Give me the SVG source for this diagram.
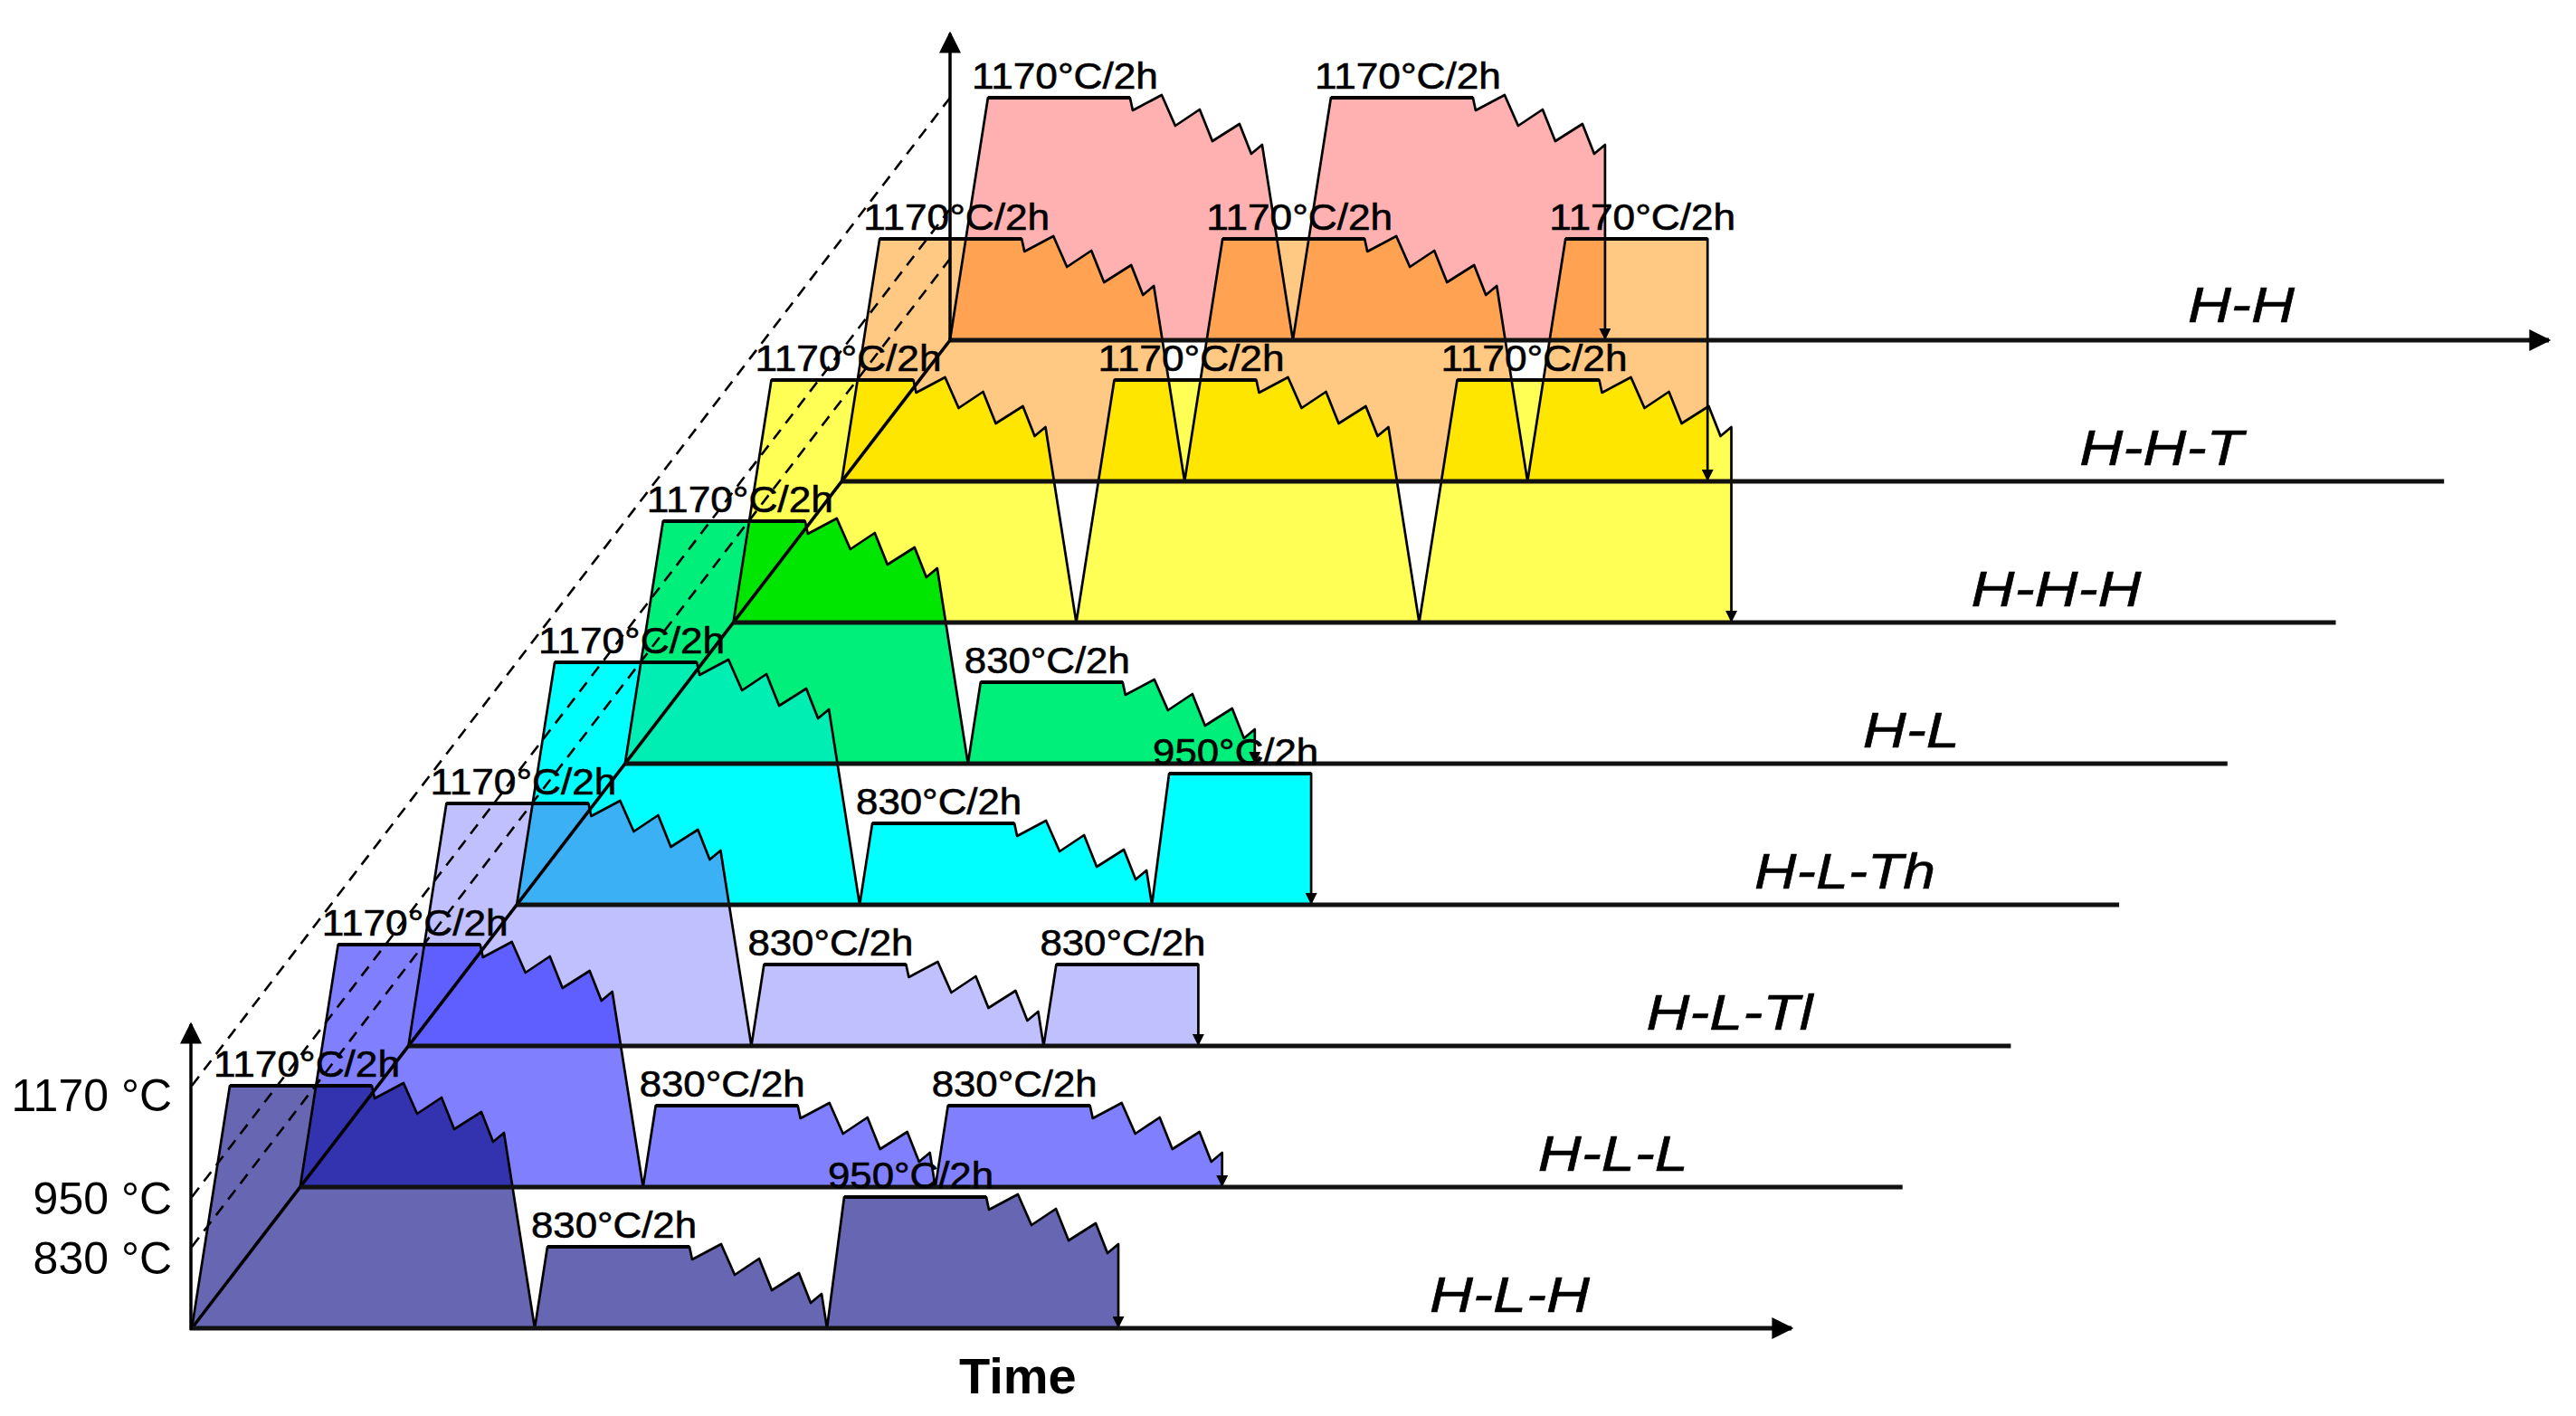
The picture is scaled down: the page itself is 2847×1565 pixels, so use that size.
<svg xmlns="http://www.w3.org/2000/svg" xmlns:xlink="http://www.w3.org/1999/xlink" width="2847" height="1565" viewBox="0 0 2847 1565">
<style>
.ol{fill:none;stroke:#000;stroke-width:2.7;stroke-linejoin:round;marker-end:url(#sa)}
.pl{stroke:#000;stroke-width:4;stroke-linecap:butt}
.bl{stroke:#111;stroke-width:5}
.ax{stroke:#000;stroke-width:3.5}
.dash{stroke:#000;stroke-width:2.6;stroke-dasharray:13 9;fill:none}
.t{font-family:"Liberation Sans",Arial,sans-serif;font-size:40px;fill:#000;stroke:#000;stroke-width:0.6}
.s{font-family:"Liberation Sans",Arial,sans-serif;font-size:56px;font-style:italic;fill:#000;stroke:#000;stroke-width:0.6}
.y{font-family:"Liberation Sans",Arial,sans-serif;font-size:50px;fill:#000;text-anchor:end}
</style>
<defs>
<marker id="sa" viewBox="0 0 10 10" refX="10" refY="5" markerWidth="15" markerHeight="13" markerUnits="userSpaceOnUse" orient="auto"><path d="M0,0 L10,5 L0,10 Z" fill="#000"/></marker>
<marker id="ba" viewBox="0 0 10 10" refX="9" refY="5" markerWidth="26" markerHeight="24" markerUnits="userSpaceOnUse" orient="auto"><path d="M0,0 L10,5 L0,10 Z" fill="#000"/></marker>
<path id="p0" d="M0,0 L42,-268 L199,-268 L202,-254 L234,-271 L249,-237 L276,-255 L290,-220 L320,-239 L333,-206 L345,-216 L379,0 L393,-90 L550,-90 L553,-76 L585,-93 L600,-59 L627,-77 L641,-42 L671,-61 L684,-28 L696,-38 L702,0 L721,-145 L878,-145 L881,-131 L913,-148 L928,-114 L955,-132 L969,-97 L999,-116 L1012,-83 L1024,-93 L1024,0"/>
<path id="p1" d="M0,0 L42,-268 L199,-268 L202,-254 L234,-271 L249,-237 L276,-255 L290,-220 L320,-239 L333,-206 L345,-216 L379,0 L393,-90 L550,-90 L553,-76 L585,-93 L600,-59 L627,-77 L641,-42 L671,-61 L684,-28 L696,-38 L702,0 L716,-90 L873,-90 L876,-76 L908,-93 L923,-59 L950,-77 L964,-42 L994,-61 L1007,-28 L1019,-38 L1019,0"/>
<path id="p2" d="M0,0 L42,-268 L199,-268 L202,-254 L234,-271 L249,-237 L276,-255 L290,-220 L320,-239 L333,-206 L345,-216 L379,0 L393,-90 L550,-90 L553,-76 L585,-93 L600,-59 L627,-77 L641,-42 L671,-61 L684,-28 L696,-38 L702,0 L716,-90 L873,-90 L873,0"/>
<path id="p3" d="M0,0 L42,-268 L199,-268 L202,-254 L234,-271 L249,-237 L276,-255 L290,-220 L320,-239 L333,-206 L345,-216 L379,0 L393,-90 L550,-90 L553,-76 L585,-93 L600,-59 L627,-77 L641,-42 L671,-61 L684,-28 L696,-38 L702,0 L721,-145 L878,-145 L878,0"/>
<path id="p4" d="M0,0 L42,-268 L199,-268 L202,-254 L234,-271 L249,-237 L276,-255 L290,-220 L320,-239 L333,-206 L345,-216 L379,0 L393,-90 L550,-90 L553,-76 L585,-93 L600,-59 L627,-77 L641,-42 L671,-61 L684,-28 L696,-38 L696,0"/>
<path id="p5" d="M0,0 L42,-268 L199,-268 L202,-254 L234,-271 L249,-237 L276,-255 L290,-220 L320,-239 L333,-206 L345,-216 L379,0 L421,-268 L578,-268 L581,-254 L613,-271 L628,-237 L655,-255 L669,-220 L699,-239 L712,-206 L724,-216 L758,0 L800,-268 L957,-268 L960,-254 L992,-271 L1007,-237 L1034,-255 L1048,-220 L1078,-239 L1091,-206 L1103,-216 L1103,0"/>
<path id="p6" d="M0,0 L42,-268 L199,-268 L202,-254 L234,-271 L249,-237 L276,-255 L290,-220 L320,-239 L333,-206 L345,-216 L379,0 L421,-268 L578,-268 L581,-254 L613,-271 L628,-237 L655,-255 L669,-220 L699,-239 L712,-206 L724,-216 L758,0 L800,-268 L957,-268 L957,0"/>
<path id="p7" d="M0,0 L42,-268 L199,-268 L202,-254 L234,-271 L249,-237 L276,-255 L290,-220 L320,-239 L333,-206 L345,-216 L379,0 L421,-268 L578,-268 L581,-254 L613,-271 L628,-237 L655,-255 L669,-220 L699,-239 L712,-206 L724,-216 L724,0"/>
<clipPath id="c1"><use xlink:href="#p1" transform="translate(331.7,1312)"/></clipPath>
<clipPath id="c2"><use xlink:href="#p2" transform="translate(451.4,1156)"/></clipPath>
<clipPath id="c3"><use xlink:href="#p3" transform="translate(571.1,1000)"/></clipPath>
<clipPath id="c4"><use xlink:href="#p4" transform="translate(690.8,844)"/></clipPath>
<clipPath id="c5"><use xlink:href="#p5" transform="translate(810.5,688)"/></clipPath>
<clipPath id="c6"><use xlink:href="#p6" transform="translate(930.2,532)"/></clipPath>
<clipPath id="c7"><use xlink:href="#p7" transform="translate(1049.9,376)"/></clipPath>
</defs>
<rect width="2847" height="1565" fill="#fff"/>

<g id="fills">
<use id="fill-HH" xlink:href="#p7" transform="translate(1049.9,376)" fill="#ffb1b1"/>
<use id="fill-HHT" xlink:href="#p6" transform="translate(930.2,532)" fill="#ffc883"/>
<g clip-path="url(#c7)"><use xlink:href="#p6" transform="translate(930.2,532)" fill="#ffa352"/></g>
<use id="fill-HHH" xlink:href="#p5" transform="translate(810.5,688)" fill="#ffff55"/>
<g clip-path="url(#c6)"><use xlink:href="#p5" transform="translate(810.5,688)" fill="#ffe600"/></g>
<use id="fill-HL" xlink:href="#p4" transform="translate(690.8,844)" fill="#00ee7a"/>
<g clip-path="url(#c5)"><use xlink:href="#p4" transform="translate(690.8,844)" fill="#00e600"/></g>
<use id="fill-HLTh" xlink:href="#p3" transform="translate(571.1,1000)" fill="#00ffff"/>
<g clip-path="url(#c4)"><use xlink:href="#p3" transform="translate(571.1,1000)" fill="#00eeb4"/></g>
<use id="fill-HLTl" xlink:href="#p2" transform="translate(451.4,1156)" fill="#c0c0ff"/>
<g clip-path="url(#c3)"><use xlink:href="#p2" transform="translate(451.4,1156)" fill="#3cb0f5"/></g>
<use id="fill-HLL" xlink:href="#p1" transform="translate(331.7,1312)" fill="#8080ff"/>
<g clip-path="url(#c2)"><use xlink:href="#p1" transform="translate(331.7,1312)" fill="#5f5fff"/></g>
<use id="fill-HLH" xlink:href="#p0" transform="translate(212,1468)" fill="#6666b3"/>
<g clip-path="url(#c1)"><use xlink:href="#p0" transform="translate(212,1468)" fill="#3333b0"/></g>
</g>

<g id="outlines">
<g id="line-HH" transform="translate(1049.9,376)"><use xlink:href="#p7" class="ol"/><path class="pl" d="M42,-268 H199 M421,-268 H578"/></g>
<g id="line-HHT" transform="translate(930.2,532)"><use xlink:href="#p6" class="ol"/><path class="pl" d="M42,-268 H199 M421,-268 H578 M800,-268 H957"/></g>
<g id="line-HHH" transform="translate(810.5,688)"><use xlink:href="#p5" class="ol"/><path class="pl" d="M42,-268 H199 M421,-268 H578 M800,-268 H957"/></g>
<g id="line-HL" transform="translate(690.8,844)"><use xlink:href="#p4" class="ol"/><path class="pl" d="M42,-268 H199 M393,-90 H550"/></g>
<g id="line-HLTh" transform="translate(571.1,1000)"><use xlink:href="#p3" class="ol"/><path class="pl" d="M42,-268 H199 M393,-90 H550 M721,-145 H878"/></g>
<g id="line-HLTl" transform="translate(451.4,1156)"><use xlink:href="#p2" class="ol"/><path class="pl" d="M42,-268 H199 M393,-90 H550 M716,-90 H873"/></g>
<g id="line-HLL" transform="translate(331.7,1312)"><use xlink:href="#p1" class="ol"/><path class="pl" d="M42,-268 H199 M393,-90 H550 M716,-90 H873"/></g>
<g id="line-HLH" transform="translate(212,1468)"><use xlink:href="#p0" class="ol"/><path class="pl" d="M42,-268 H199 M393,-90 H550 M721,-145 H878"/></g>
</g>

<g id="axes">
<line class="dash" x1="212" y1="1200" x2="1050" y2="108"/>
<line class="dash" x1="212" y1="1323" x2="1050" y2="231"/>
<line class="dash" x1="212" y1="1378" x2="1050" y2="286"/>
<line x1="212" y1="1468" x2="1050" y2="376" stroke="#000" stroke-width="3.6"/>
<line class="bl" x1="331.7" y1="1312" x2="2102.7" y2="1312"/>
<line class="bl" x1="451.4" y1="1156" x2="2222.4" y2="1156"/>
<line class="bl" x1="571.1" y1="1000" x2="2342.1" y2="1000"/>
<line class="bl" x1="690.8" y1="844" x2="2461.8" y2="844"/>
<line class="bl" x1="810.5" y1="688" x2="2581.5" y2="688"/>
<line class="bl" x1="930.2" y1="532" x2="2701.2" y2="532"/>
<line class="bl" x1="210" y1="1468" x2="1980" y2="1468" marker-end="url(#ba)"/>
<line class="bl" x1="1048" y1="376" x2="2817" y2="376" marker-end="url(#ba)"/>
<line class="ax" x1="211" y1="1470" x2="211" y2="1132" marker-end="url(#ba)"/>
<line class="ax" x1="1050" y1="378" x2="1050" y2="37" marker-end="url(#ba)"/>
</g>

<g id="labels">
<text class="t" x="236" y="1190" textLength="206" lengthAdjust="spacingAndGlyphs">1170°C/2h</text>
<text class="t" x="587" y="1368" textLength="183" lengthAdjust="spacingAndGlyphs">830°C/2h</text>
<text class="t" x="915" y="1313" textLength="183" lengthAdjust="spacingAndGlyphs">950°C/2h</text>
<text class="t" x="355.7" y="1034" textLength="206" lengthAdjust="spacingAndGlyphs">1170°C/2h</text>
<text class="t" x="706.7" y="1212" textLength="183" lengthAdjust="spacingAndGlyphs">830°C/2h</text>
<text class="t" x="1029.7" y="1212" textLength="183" lengthAdjust="spacingAndGlyphs">830°C/2h</text>
<text class="t" x="475.4" y="878" textLength="206" lengthAdjust="spacingAndGlyphs">1170°C/2h</text>
<text class="t" x="826.4" y="1056" textLength="183" lengthAdjust="spacingAndGlyphs">830°C/2h</text>
<text class="t" x="1149.4" y="1056" textLength="183" lengthAdjust="spacingAndGlyphs">830°C/2h</text>
<text class="t" x="595.1" y="722" textLength="206" lengthAdjust="spacingAndGlyphs">1170°C/2h</text>
<text class="t" x="946.1" y="900" textLength="183" lengthAdjust="spacingAndGlyphs">830°C/2h</text>
<text class="t" x="1274.1" y="845" textLength="183" lengthAdjust="spacingAndGlyphs">950°C/2h</text>
<text class="t" x="714.8" y="566" textLength="206" lengthAdjust="spacingAndGlyphs">1170°C/2h</text>
<text class="t" x="1065.8" y="744" textLength="183" lengthAdjust="spacingAndGlyphs">830°C/2h</text>
<text class="t" x="834.5" y="410" textLength="206" lengthAdjust="spacingAndGlyphs">1170°C/2h</text>
<text class="t" x="1213.5" y="410" textLength="206" lengthAdjust="spacingAndGlyphs">1170°C/2h</text>
<text class="t" x="1592.5" y="410" textLength="206" lengthAdjust="spacingAndGlyphs">1170°C/2h</text>
<text class="t" x="954.2" y="254" textLength="206" lengthAdjust="spacingAndGlyphs">1170°C/2h</text>
<text class="t" x="1333.2" y="254" textLength="206" lengthAdjust="spacingAndGlyphs">1170°C/2h</text>
<text class="t" x="1712.2" y="254" textLength="206" lengthAdjust="spacingAndGlyphs">1170°C/2h</text>
<text class="t" x="1073.9" y="98" textLength="206" lengthAdjust="spacingAndGlyphs">1170°C/2h</text>
<text class="t" x="1452.9" y="98" textLength="206" lengthAdjust="spacingAndGlyphs">1170°C/2h</text>

<text class="s" x="1580" y="1450" textLength="177" lengthAdjust="spacingAndGlyphs">H-L-H</text>
<text class="s" x="1699.7" y="1294" textLength="166" lengthAdjust="spacingAndGlyphs">H-L-L</text>
<text class="s" x="1819.4" y="1138" textLength="184" lengthAdjust="spacingAndGlyphs">H-L-Tl</text>
<text class="s" x="1939.1" y="982" textLength="200" lengthAdjust="spacingAndGlyphs">H-L-Th</text>
<text class="s" x="2058.8" y="826" textLength="107" lengthAdjust="spacingAndGlyphs">H-L</text>
<text class="s" x="2178.5" y="670" textLength="188" lengthAdjust="spacingAndGlyphs">H-H-H</text>
<text class="s" x="2298.2" y="514" textLength="181" lengthAdjust="spacingAndGlyphs">H-H-T</text>
<text class="s" x="2417.9" y="356" textLength="118" lengthAdjust="spacingAndGlyphs">H-H</text>

<text class="y" x="190" y="1228">1170 °C</text>
<text class="y" x="190" y="1342">950 °C</text>
<text class="y" x="190" y="1408">830 °C</text>
<text x="1060" y="1540" font-family="Liberation Sans, Arial, sans-serif" font-size="56" font-weight="bold">Time</text>
</g>
</svg>
